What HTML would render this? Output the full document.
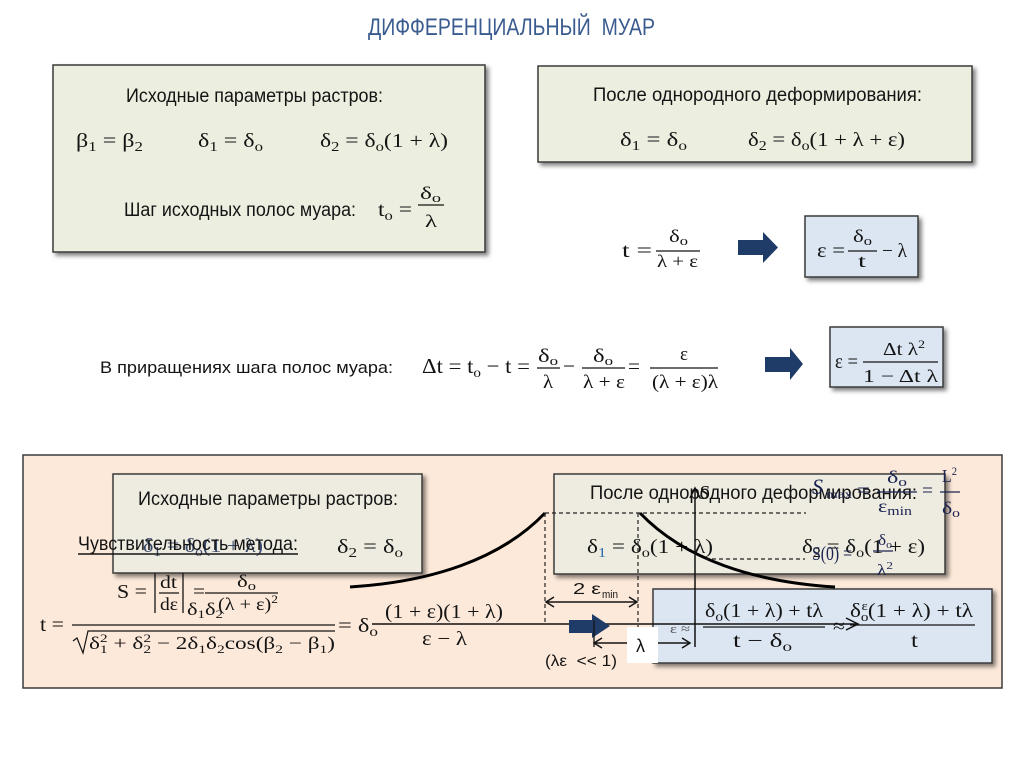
<!DOCTYPE html>
<html><head><meta charset="utf-8"><style>
html,body{margin:0;padding:0;background:#fff;}
svg{display:block}
.s{font-family:"Liberation Sans",sans-serif;fill:#141414}
.m{font-family:"Liberation Serif",serif;fill:#141414}
.n{font-family:"Liberation Serif",serif;fill:#1b2350}
</style></head><body>
<svg width="1024" height="767" viewBox="0 0 1024 767" xmlns="http://www.w3.org/2000/svg">
<defs>
<filter id="sh" x="-5%" y="-10%" width="115%" height="130%"><feDropShadow dx="3" dy="3" stdDeviation="2" flood-color="#000" flood-opacity="0.5"/></filter>
</defs>
<rect x="0" y="0" width="1024" height="767" fill="#fff"/>

<!-- Title -->
<text x="368" y="35" font-size="24" textLength="287" lengthAdjust="spacingAndGlyphs" style="white-space:pre" fill="#3a5b8f" font-family="Liberation Sans, sans-serif">ДИФФЕРЕНЦИАЛЬНЫЙ  МУАР</text>

<!-- Box 1 -->
<rect x="53" y="65" width="432" height="187" fill="#eceedf" stroke="#3a3a3a" stroke-width="1.5" filter="url(#sh)"/>
<text class="s" x="126" y="102" font-size="19" textLength="257" lengthAdjust="spacingAndGlyphs">Исходные параметры растров:</text>
<text class="m" x="76" y="147" font-size="20" textLength="67" lengthAdjust="spacingAndGlyphs">β<tspan font-size="14" dy="4">1</tspan><tspan dy="-4"> = β</tspan><tspan font-size="14" dy="4">2</tspan></text>
<text class="m" x="198" y="147" font-size="20" textLength="65" lengthAdjust="spacingAndGlyphs">δ<tspan font-size="14" dy="4">1</tspan><tspan dy="-4"> = δ</tspan><tspan font-size="14" dy="4">o</tspan></text>
<text class="m" x="320" y="147" font-size="20" textLength="128" lengthAdjust="spacingAndGlyphs">δ<tspan font-size="14" dy="4">2</tspan><tspan dy="-4"> = δ</tspan><tspan font-size="14" dy="4">o</tspan><tspan dy="-4">(1 + λ)</tspan></text>
<text class="s" x="124" y="216" font-size="19" textLength="232" lengthAdjust="spacingAndGlyphs">Шаг исходных полос муара:</text>
<text class="m" x="378" y="216" font-size="20" textLength="34" lengthAdjust="spacingAndGlyphs">t<tspan font-size="14" dy="4">o</tspan><tspan dy="-4"> =</tspan></text>
<text class="m" x="420" y="199" font-size="18" textLength="21" lengthAdjust="spacingAndGlyphs">δ<tspan font-size="13" dy="3">o</tspan></text>
<line x1="418" y1="205" x2="444" y2="205" stroke="#141414" stroke-width="1.2"/>
<text class="m" x="425" y="227" font-size="18" textLength="12" lengthAdjust="spacingAndGlyphs">λ</text>

<!-- Box 2 -->
<rect x="538" y="66" width="434" height="96" fill="#eceedf" stroke="#3a3a3a" stroke-width="1.5" filter="url(#sh)"/>
<text class="s" x="593" y="101" font-size="19" textLength="329" lengthAdjust="spacingAndGlyphs">После однородного деформирования:</text>
<text class="m" x="620" y="146" font-size="20" textLength="67" lengthAdjust="spacingAndGlyphs">δ<tspan font-size="14" dy="4">1</tspan><tspan dy="-4"> = δ</tspan><tspan font-size="14" dy="4">o</tspan></text>
<text class="m" x="748" y="146" font-size="20" textLength="157" lengthAdjust="spacingAndGlyphs">δ<tspan font-size="14" dy="4">2</tspan><tspan dy="-4"> = δ</tspan><tspan font-size="14" dy="4">o</tspan><tspan dy="-4">(1 + λ + ε)</tspan></text>

<!-- t = δo/(λ+ε) -->
<text class="m" x="622" y="257" font-size="20" textLength="30" lengthAdjust="spacingAndGlyphs">t =</text>
<text class="m" x="669" y="242" font-size="18" textLength="19" lengthAdjust="spacingAndGlyphs">δ<tspan font-size="13" dy="3">o</tspan></text>
<line x1="656" y1="251" x2="700" y2="251" stroke="#141414" stroke-width="1.2"/>
<text class="m" x="657" y="267" font-size="18" textLength="41" lengthAdjust="spacingAndGlyphs">λ + ε</text>
<polygon points="738,240 763,240 763,232 778,247.5 763,263 763,255 738,255" fill="#1f3c68"/>
<rect x="805" y="216" width="113" height="61" fill="#dce6f2" stroke="#3a3a3a" stroke-width="1.5" filter="url(#sh)"/>
<text class="m" x="817" y="257" font-size="20" textLength="28" lengthAdjust="spacingAndGlyphs">ε =</text>
<text class="m" x="853" y="242" font-size="18" textLength="19" lengthAdjust="spacingAndGlyphs">δ<tspan font-size="13" dy="3">o</tspan></text>
<line x1="848" y1="251" x2="877" y2="251" stroke="#141414" stroke-width="1.2"/>
<text class="m" x="858" y="267" font-size="18" textLength="8" lengthAdjust="spacingAndGlyphs">t</text>
<text class="m" x="882" y="257" font-size="20" textLength="25" lengthAdjust="spacingAndGlyphs">− λ</text>

<!-- Middle row -->
<text class="s" x="100" y="373" font-size="17" textLength="293" lengthAdjust="spacingAndGlyphs">В приращениях шага полос муара:</text>
<text class="m" x="422" y="373" font-size="21" textLength="108" lengthAdjust="spacingAndGlyphs">Δt = t<tspan font-size="14" dy="4">o</tspan><tspan dy="-4"> − t =</tspan></text>
<text class="m" x="538" y="362" font-size="19" textLength="20" lengthAdjust="spacingAndGlyphs">δ<tspan font-size="13" dy="3">o</tspan></text>
<line x1="537" y1="368" x2="560" y2="368" stroke="#141414" stroke-width="1.2"/>
<text class="m" x="543" y="388" font-size="19" textLength="10" lengthAdjust="spacingAndGlyphs">λ</text>
<text class="m" x="563" y="373" font-size="21" textLength="12" lengthAdjust="spacingAndGlyphs">−</text>
<text class="m" x="593" y="362" font-size="19" textLength="20" lengthAdjust="spacingAndGlyphs">δ<tspan font-size="13" dy="3">o</tspan></text>
<line x1="582" y1="368" x2="625" y2="368" stroke="#141414" stroke-width="1.2"/>
<text class="m" x="583" y="388" font-size="19" textLength="42" lengthAdjust="spacingAndGlyphs">λ + ε</text>
<text class="m" x="628" y="373" font-size="21" textLength="12" lengthAdjust="spacingAndGlyphs">=</text>
<text class="m" x="680" y="360" font-size="19" textLength="8" lengthAdjust="spacingAndGlyphs">ε</text>
<line x1="650" y1="368" x2="718" y2="368" stroke="#141414" stroke-width="1.2"/>
<text class="m" x="652" y="388" font-size="19" textLength="66" lengthAdjust="spacingAndGlyphs">(λ + ε)λ</text>
<polygon points="765,357 790,357 790,348 803,364 790,380 790,372 765,372" fill="#1f3c68"/>
<rect x="830" y="327" width="113" height="60" fill="#dce6f2" stroke="#3a3a3a" stroke-width="1.5" filter="url(#sh)"/>
<text class="m" x="835" y="368" font-size="20" textLength="23" lengthAdjust="spacingAndGlyphs">ε =</text>
<text class="m" x="883" y="355" font-size="18" textLength="42" lengthAdjust="spacingAndGlyphs">Δt λ<tspan font-size="12" dy="-7">2</tspan></text>
<line x1="863" y1="362" x2="938" y2="362" stroke="#141414" stroke-width="1.2"/>
<text class="m" x="863" y="382" font-size="18" textLength="75" lengthAdjust="spacingAndGlyphs">1 − Δt λ</text>

<!-- Bottom panel -->
<rect x="23" y="455" width="979" height="233" fill="#fde9d9" stroke="#3a3a3a" stroke-width="1.5"/>
<rect x="113" y="474" width="309" height="99" fill="#eeece1" stroke="#3a3a3a" stroke-width="1.5" filter="url(#sh)"/>
<rect x="554" y="474" width="391" height="100" fill="#eeece1" stroke="#3a3a3a" stroke-width="1.5" filter="url(#sh)"/>
<rect x="653" y="589" width="339" height="74" fill="#dce6f2" stroke="#3a3a3a" stroke-width="1.5" filter="url(#sh)"/>

<!-- Box A texts -->
<text class="s" x="138" y="505" font-size="19" textLength="260" lengthAdjust="spacingAndGlyphs">Исходные параметры растров:</text>
<text class="m" x="143" y="552" font-size="20" textLength="120" lengthAdjust="spacingAndGlyphs" style="fill:#3a4a6a">δ<tspan font-size="14" dy="4">1</tspan><tspan dy="-4"> = δ</tspan><tspan font-size="14" dy="4">o</tspan><tspan dy="-4">(1 + λ)</tspan></text>
<text class="s" x="78" y="550" font-size="19" textLength="220" lengthAdjust="spacingAndGlyphs">Чувствительность метода:</text>
<line x1="78" y1="554" x2="298" y2="554" stroke="#141414" stroke-width="1.5"/>
<text class="m" x="337" y="553" font-size="20" textLength="66" lengthAdjust="spacingAndGlyphs">δ<tspan font-size="14" dy="4">2</tspan><tspan dy="-4"> = δ</tspan><tspan font-size="14" dy="4">o</tspan></text>

<!-- S formula -->
<text class="m" x="117" y="598" font-size="20" textLength="30" lengthAdjust="spacingAndGlyphs">S =</text>
<line x1="155" y1="573" x2="155" y2="613" stroke="#141414" stroke-width="1.3"/>
<line x1="183" y1="573" x2="183" y2="613" stroke="#141414" stroke-width="1.3"/>
<text class="m" x="160" y="588" font-size="18" textLength="17" lengthAdjust="spacingAndGlyphs">dt</text>
<line x1="159" y1="593" x2="179" y2="593" stroke="#141414" stroke-width="1.2"/>
<text class="m" x="160" y="610" font-size="18" textLength="18" lengthAdjust="spacingAndGlyphs">dε</text>
<text class="m" x="193" y="598" font-size="20" textLength="12" lengthAdjust="spacingAndGlyphs">=</text>
<text class="m" x="237" y="587" font-size="18" textLength="19" lengthAdjust="spacingAndGlyphs">δ<tspan font-size="13" dy="3">o</tspan></text>
<line x1="205" y1="593" x2="278" y2="593" stroke="#141414" stroke-width="1.2"/>
<text class="m" x="218" y="610" font-size="18" textLength="60" lengthAdjust="spacingAndGlyphs">(λ + ε)<tspan font-size="12" dy="-7">2</tspan></text>

<!-- t formula -->
<text class="m" x="40" y="631" font-size="20" textLength="24" lengthAdjust="spacingAndGlyphs">t =</text>
<text class="m" x="187" y="615" font-size="18" textLength="36" lengthAdjust="spacingAndGlyphs">δ<tspan font-size="12" dy="3">1</tspan><tspan dy="-3">δ</tspan><tspan font-size="12" dy="3">2</tspan></text>
<line x1="72" y1="625" x2="335" y2="625" stroke="#141414" stroke-width="1.3"/>
<path d="M73,641 L77,638 L83,653 L88,631 L335,631" stroke="#141414" stroke-width="1.2" fill="none"/>
<text class="m" x="89" y="649" font-size="18" textLength="246" lengthAdjust="spacingAndGlyphs">δ<tspan font-size="12" dy="4">1</tspan><tspan font-size="12" dx="-6" dy="-11">2</tspan><tspan dy="7"> + δ</tspan><tspan font-size="12" dy="4">2</tspan><tspan font-size="12" dx="-6" dy="-11">2</tspan><tspan dy="7"> − 2δ</tspan><tspan font-size="12" dy="4">1</tspan><tspan dy="-4">δ</tspan><tspan font-size="12" dy="4">2</tspan><tspan dy="-4">cos(β</tspan><tspan font-size="12" dy="4">2</tspan><tspan dy="-4"> − β</tspan><tspan font-size="12" dy="4">1</tspan><tspan dy="-4">)</tspan></text>
<text class="m" x="338" y="632" font-size="20" textLength="40" lengthAdjust="spacingAndGlyphs">= δ<tspan font-size="14" dy="4">o</tspan></text>
<text class="m" x="385" y="618" font-size="20" textLength="118" lengthAdjust="spacingAndGlyphs">(1 + ε)(1 + λ)</text>
<text class="m" x="422" y="645" font-size="20" textLength="45" lengthAdjust="spacingAndGlyphs">ε − λ</text>

<!-- Box B texts -->
<text class="s" x="590" y="499" font-size="19" textLength="327" lengthAdjust="spacingAndGlyphs">После однородного деформирования:</text>
<text class="m" x="587" y="553" font-size="20" textLength="126" lengthAdjust="spacingAndGlyphs">δ<tspan font-size="14" dy="4" style="fill:#2a6aa8">1</tspan><tspan dy="-4"> = δ</tspan><tspan font-size="14" dy="4">o</tspan><tspan dy="-4">(1 + λ)</tspan></text>
<text class="m" x="802" y="553" font-size="20" textLength="123" lengthAdjust="spacingAndGlyphs">δ<tspan font-size="14" dy="4">2</tspan><tspan dy="-4"> = δ</tspan><tspan font-size="14" dy="4">o</tspan><tspan dy="-4">(1 + ε)</tspan></text>
<text class="n" x="812" y="560" font-size="20" textLength="40" lengthAdjust="spacingAndGlyphs">S(0) =</text>
<text class="n" x="878" y="545" font-size="16" textLength="14" lengthAdjust="spacingAndGlyphs">δ<tspan font-size="11" dy="3">o</tspan></text>
<line x1="873" y1="551" x2="893" y2="551" stroke="#1b2350" stroke-width="1.2"/>
<text class="n" x="877" y="575" font-size="16" textLength="16" lengthAdjust="spacingAndGlyphs">λ<tspan font-size="11" dy="-6">2</tspan></text>

<!-- S max -->
<text class="n" x="812" y="494" font-size="22" font-style="italic">S</text>
<text class="n" x="826" y="498" font-size="12" textLength="26" lengthAdjust="spacingAndGlyphs">max</text>
<text class="n" x="857" y="497" font-size="20" textLength="13" lengthAdjust="spacingAndGlyphs">=</text>
<text class="n" x="887" y="483" font-size="18" textLength="20" lengthAdjust="spacingAndGlyphs">δ<tspan font-size="13" dy="3">o</tspan></text>
<line x1="877" y1="492" x2="917" y2="492" stroke="#1b2350" stroke-width="1.2"/>
<text class="n" x="878" y="512" font-size="18" textLength="34" lengthAdjust="spacingAndGlyphs">ε<tspan font-size="13" dy="3">min</tspan></text>
<text class="n" x="922" y="497" font-size="20" textLength="11" lengthAdjust="spacingAndGlyphs">=</text>
<text class="n" x="942" y="482" font-size="18" textLength="15" lengthAdjust="spacingAndGlyphs">L<tspan font-size="12" dy="-7">2</tspan></text>
<line x1="940" y1="492" x2="960" y2="492" stroke="#1b2350" stroke-width="1.2"/>
<text class="n" x="942" y="514" font-size="18" textLength="18" lengthAdjust="spacingAndGlyphs">δ<tspan font-size="13" dy="3">o</tspan></text>

<!-- Box C texts -->
<text class="m" x="670" y="633" font-size="13" textLength="20" lengthAdjust="spacingAndGlyphs" style="fill:#555">ε ≈</text>
<text class="m" x="705" y="617" font-size="20" textLength="118" lengthAdjust="spacingAndGlyphs">δ<tspan font-size="14" dy="4">o</tspan><tspan dy="-4">(1 + λ) + tλ</tspan></text>
<line x1="703" y1="627" x2="825" y2="627" stroke="#141414" stroke-width="1.2"/>
<text class="m" x="733" y="647" font-size="20" textLength="59" lengthAdjust="spacingAndGlyphs">t − δ<tspan font-size="14" dy="4">o</tspan></text>
<text class="m" x="833" y="632" font-size="18" textLength="12" lengthAdjust="spacingAndGlyphs">≈</text>
<text class="m" x="850" y="617" font-size="20" textLength="123" lengthAdjust="spacingAndGlyphs">δ<tspan font-size="13" dy="4">o</tspan><tspan font-size="13" dx="-6" dy="-11">ε</tspan><tspan dy="7">(1 + λ) + tλ</tspan></text>
<line x1="850" y1="625" x2="975" y2="625" stroke="#141414" stroke-width="1.2"/>
<text class="m" x="911" y="647" font-size="20" textLength="7" lengthAdjust="spacingAndGlyphs">t</text>

<!-- Curves -->
<path d="M350,587 C430,582 500,560 545,513" stroke="#000" stroke-width="3" fill="none"/>
<path d="M640,513 C685,560 755,582 835,587" stroke="#000" stroke-width="3" fill="none"/>

<!-- Dashed lines -->
<g stroke="#222" stroke-width="1.2" stroke-dasharray="4,3" fill="none">
<line x1="545" y1="513" x2="806" y2="513"/>
<line x1="705" y1="559" x2="805" y2="559"/>
<line x1="545" y1="513" x2="545" y2="625"/>
<line x1="638" y1="513" x2="638" y2="627"/>
</g>

<!-- 2 eps min dimension -->
<line x1="546" y1="602" x2="637" y2="602" stroke="#141414" stroke-width="1.5"/>
<polyline points="554,597 546,602 554,607" stroke="#141414" stroke-width="1.5" fill="none"/>
<polyline points="629,597 637,602 629,607" stroke="#141414" stroke-width="1.5" fill="none"/>
<text class="s" x="573" y="594" font-size="16" textLength="28" lengthAdjust="spacingAndGlyphs">2 ε</text>
<text class="s" x="602" y="598" font-size="11" textLength="16" lengthAdjust="spacingAndGlyphs">min</text>

<!-- Axes -->
<line x1="372" y1="624" x2="858" y2="624" stroke="#111" stroke-width="1.5"/>
<polyline points="846,618 858,624 846,630" stroke="#111" stroke-width="1.5" fill="none"/>
<line x1="695" y1="647" x2="695" y2="488" stroke="#111" stroke-width="1.5"/>
<polyline points="690,498 695,488 700,498" stroke="#111" stroke-width="1.5" fill="none"/>
<text class="m" x="699" y="499" font-size="20" font-style="italic">S</text>

<!-- Blue arrow bottom -->
<polygon points="569,620 592,620 592,614 610,626 592,638 592,633 569,633" fill="#1f3c68"/>

<!-- lambda dimension -->
<line x1="594" y1="620" x2="594" y2="647" stroke="#141414" stroke-width="1.3"/>
<line x1="594" y1="643" x2="690" y2="643" stroke="#141414" stroke-width="1.5"/>
<polyline points="602,638 594,643 602,648" stroke="#141414" stroke-width="1.5" fill="none"/>
<polyline points="682,638 690,643 682,648" stroke="#141414" stroke-width="1.5" fill="none"/>
<rect x="627" y="627" width="31" height="36" fill="#fff"/>
<text class="s" x="636" y="652" font-size="18">λ</text>

<text class="s" x="545" y="666" font-size="16" textLength="72" lengthAdjust="spacingAndGlyphs" style="white-space:pre">(λε  &lt;&lt; 1)</text>
</svg>
</body></html>
